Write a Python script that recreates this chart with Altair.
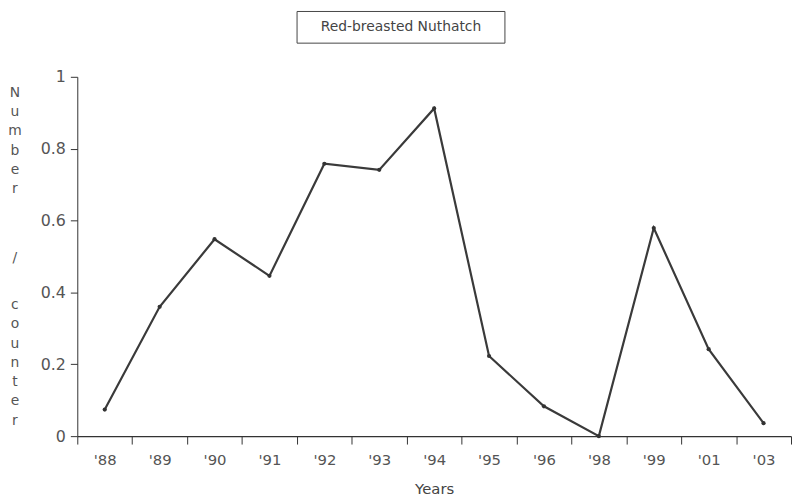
import altair as alt
import pandas as pd

years = ["'88", "'89", "'90", "'91", "'92", "'93", "'94", "'95", "'96", "'98", "'99", "'01", "'03"]
values = [0.074, 0.36, 0.548, 0.446, 0.758, 0.741, 0.912, 0.223, 0.083, 0.0, 0.579, 0.242, 0.036]
title_text = "Red-breasted Nuthatch"
y_title_parts = ["Number", "/", "counter"]

df = pd.DataFrame({"year": years, "value": values})
FONT = "DejaVu Sans"
GRAY = "#555555"

x_enc = alt.X("year:N", sort=years,
              scale=alt.Scale(paddingInner=0, paddingOuter=0),
              axis=alt.Axis(title="Years", labelAngle=0, tickBand="extent",
                            labelFont=FONT, labelFontSize=15, labelColor=GRAY,
                            titleFont=FONT, titleFontSize=15, titleFontWeight="normal",
                            titleColor="#444", titlePadding=14, labelPadding=9,
                            tickSize=8, domainColor="#333", tickColor="#333",
                            domainWidth=1.5, grid=False))
y_enc = alt.Y("value:Q", scale=alt.Scale(domain=[0, 1], nice=False),
              axis=alt.Axis(title=None, values=[0, 0.2, 0.4, 0.6, 0.8, 1],
                            labelExpr="datum.value == 0 || datum.value == 1 ? format(datum.value, 'd') : format(datum.value, '.1f')",
                            labelFont=FONT, labelFontSize=16, labelColor=GRAY,
                            tickSize=7, domainColor="#333", tickColor="#333",
                            labelPadding=5, grid=False))

line = alt.Chart(df).mark_line(color="#3a3a3a", strokeWidth=2.2).encode(x=x_enc, y=y_enc)
pts = alt.Chart(df).mark_point(filled=True, color="#333", size=18, opacity=1).encode(
    x=alt.X("year:N", sort=years), y="value:Q")

box = alt.Chart(pd.DataFrame({"t": [title_text]})).mark_rect(
    fill="white", stroke="#444", strokeWidth=1).encode(
    x=alt.value(222), x2=alt.value(432), y=alt.value(-66), y2=alt.value(-34))
ttl = alt.Chart(pd.DataFrame({"t": [title_text]})).mark_text(
    font=FONT, fontSize=14, color="#444", align="center", baseline="middle").encode(
    text="t:N", x=alt.value(327), y=alt.value(-50))

ytitle_layers = []
for part, ypos in zip(y_title_parts, [9, 176, 223.5]):
    ytitle_layers.append(
        alt.Chart(pd.DataFrame({"t": ["\n".join(part)]})).mark_text(
            font=FONT, fontSize=14, color=GRAY, align="center", baseline="top",
            lineBreak="\n", lineHeight=19.5).encode(
            text="t:N", x=alt.value(-63), y=alt.value(ypos)))

chart = alt.layer(line, pts, box, ttl, *ytitle_layers).properties(
    width=721, height=363,
    autosize=alt.AutoSizeParams(type="none"),
    padding={"left": 70, "top": 67, "right": 1, "bottom": 61},
    background="white",
).configure_view(stroke=None)

chart.save("out.html", embed_options={"renderer": "svg", "actions": False})
